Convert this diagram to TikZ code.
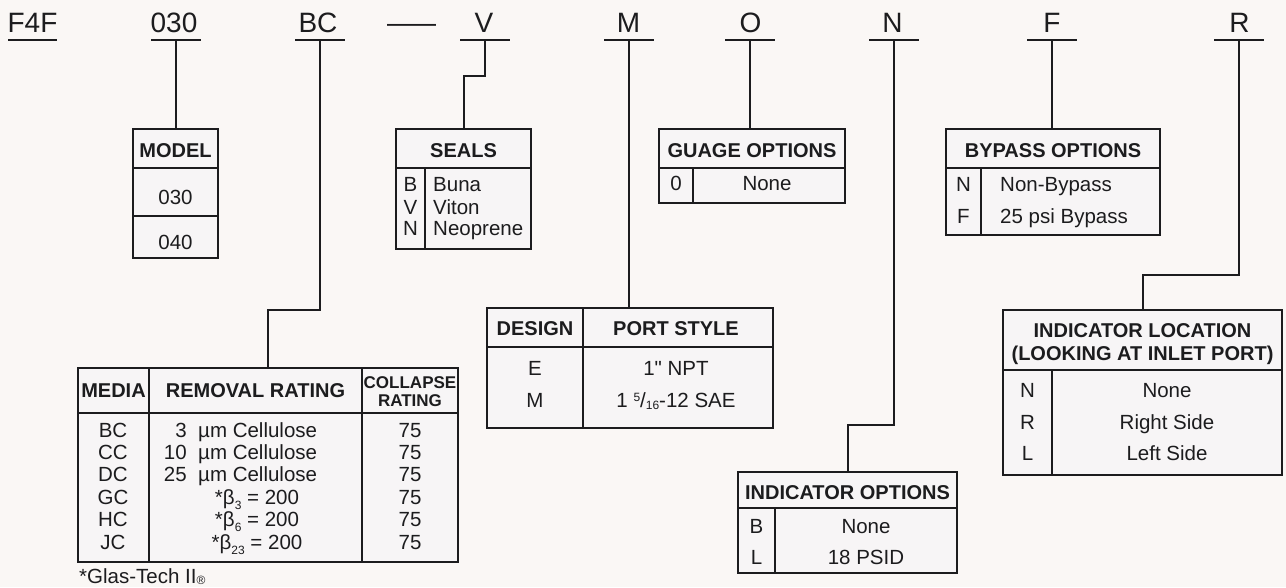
\documentclass[tikz,border=0pt]{standalone}
\usepackage{fontspec}
\setmainfont{Liberation Sans}
\newfontfamily\rawsans{Liberation Sans}
\definecolor{bg}{RGB}{250,247,245}
\definecolor{tfill}{RGB}{247,245,246}
\definecolor{ink}{RGB}{28,28,30}
\newcommand\smallfig[1]{{\fontsize{12}{12}\selectfont #1}}
\newcommand\lowsub[1]{\raisebox{-5pt}{\smallfig{#1}}}
\begin{document}
\begin{tikzpicture}[x=1pt,y=-1pt,
 hdr/.style={font=\fontsize{28}{30}\selectfont, text=ink, anchor=base, inner sep=0pt},
 th/.style={font=\bfseries\fontsize{20}{22}\selectfont, text=ink, anchor=base, inner sep=0pt},
 thsm/.style={font=\bfseries\fontsize{17}{19}\selectfont, text=ink, anchor=base, inner sep=0pt},
 td/.style={font=\fontsize{20.5}{22}\selectfont, text=ink, anchor=base, inner sep=0pt},
 tdl/.style={td, anchor=base west},
 tdr/.style={td, anchor=base east},
 ul/.style={draw=ink, line width=2pt},
 conn/.style={draw=ink, line width=2pt},
 tbl/.style={draw=ink, line width=2.2pt, fill=tfill, anchor=north west, inner sep=0pt, outer sep=0pt},
 rule/.style={draw=ink, line width=2.2pt}]
\fill[bg] (0,0) rectangle (1286,587);
\useasboundingbox (0,0) rectangle (1286,587);

% ---------- header code letters ----------
\node[hdr] (hF4F) at (32.5,32) {F4F};
\node[hdr] (h030) at (174,32) {030};
\node[hdr] (hBC) at (318,32) {BC};
\node[hdr] (hdash) at (411.5,32) {\scalebox{1.75}[1]{—}};
\node[hdr] (hV) at (484,32) {V};
\node[hdr] (hM) at (628.5,32) {M};
\node[hdr] (hO) at (750.5,32) {O};
\node[hdr] (hN) at (892.5,32) {N};
\node[hdr] (hF) at (1052,32) {F};
\node[hdr] (hR) at (1239.5,32) {R};

\coordinate (uF4F) at (32.5,40);
\coordinate (u030) at (176,40);
\coordinate (uBC) at (320,40);
\coordinate (uV) at (485,40);
\coordinate (uM) at (629,40);
\coordinate (uO) at (750,40);
\coordinate (uN) at (894,40);
\coordinate (uF) at (1052,40);
\coordinate (uR) at (1239,40);

\draw[ul] (uF4F) ++(-24.5,0) -- ++(49,0);
\foreach \u in {u030,uBC,uV,uM,uO,uN,uF,uR}
  \draw[ul] (\u) ++(-25,0) -- ++(50,0);

% ---------- MODEL ----------
\node[tbl, minimum width=85pt, minimum height=129pt] (model) at (133,129) {};
\draw[rule] (133,168) -- (218,168);
\draw[rule] (133,216) -- (218,216);
\node[th] (modelH) at (175.5,157) {MODEL};
\node[td] (m030) at (175.5,204) {030};
\node[td] (m040) at (175.5,249) {040};

% ---------- SEALS ----------
\node[tbl, minimum width=135pt, minimum height=120pt] (seals) at (396,129) {};
\draw[rule] (396,168) -- (531,168);
\draw[rule] (425,168) -- (425,249);
\node[th] (sealsH) at (463.5,157) {SEALS};
\node[td] (sB) at (410.5,191.3) {B};
\node[td] (sV) at (410.5,214) {V};
\node[td] (sN) at (410.5,235.6) {N};
\node[tdl] (sBv) at (433,191.3) {Buna};
\node[tdl] (sVv) at (433,214) {Viton};
\node[tdl] (sNv) at (433,235.6) {Neoprene};

% ---------- GUAGE OPTIONS ----------
\node[tbl, minimum width=186pt, minimum height=74pt] (gauge) at (659,129) {};
\draw[rule] (659,168) -- (845,168);
\draw[rule] (693,168) -- (693,203);
\node[th] (gaugeH) at (752,157) {GUAGE OPTIONS};
\node[td] (g0) at (676,190.6) {0};
\node[td] (g0v) at (767,190.6) {None};

% ---------- BYPASS OPTIONS ----------
\node[tbl, minimum width=214pt, minimum height=106pt] (bypass) at (946,129) {};
\draw[rule] (946,168) -- (1160,168);
\draw[rule] (981,168) -- (981,235);
\node[th] (bypassH) at (1053,157) {BYPASS OPTIONS};
\node[td] (bN) at (963.5,191.3) {N};
\node[td] (bF) at (963.5,223.3) {F};
\node[tdl] (bNv) at (1000,191.3) {Non-Bypass};
\node[tdl] (bFv) at (1000,223.3) {25 psi Bypass};

% ---------- MEDIA ----------
\node[tbl, minimum width=380pt, minimum height=194pt] (media) at (78,368) {};
\draw[rule] (78,413) -- (458,413);
\draw[rule] (149,368) -- (149,562);
\draw[rule] (362,368) -- (362,562);
\node[th] (mediaH) at (113.5,397) {MEDIA};
\node[th] (remH) at (255.5,397) {REMOVAL RATING};
\node[thsm] (colH1) at (410,388) {COLLAPSE};
\node[thsm] (colH2) at (410,406) {RATING};
\foreach \c/\y in {BC/437.3,CC/459,DC/481.3,GC/504,HC/526.3,JC/549}
  \node[td] at (113,\y) {\c};
\foreach \y in {437.3,459,481.3,504,526.3,549}
  \node[td] at (410,\y) {75};
\node[tdr] (r1n) at (187,437.3) {3};
\node[tdl] (r1t) at (198,437.3) {µm Cellulose};
\node[tdr] (r2n) at (187,459) {10};
\node[tdl] (r2t) at (198,459) {µm Cellulose};
\node[tdr] (r3n) at (187,481.3) {25};
\node[tdl] (r3t) at (198,481.3) {µm Cellulose};
\node[td] (r4) at (257,504) {*β\lowsub{3} = 200};
\node[td] (r5) at (257,526.3) {*β\lowsub{6} = 200};
\node[td] (r6) at (257,549) {*β\lowsub{23} = 200};
\node[tdl] (foot) at (79,583) {*Glas-Tech II\raisebox{-1pt}{\smallfig{®}}};

% ---------- DESIGN / PORT STYLE ----------
\node[tbl, minimum width=286pt, minimum height=120pt] (design) at (487,308) {};
\draw[rule] (487,347) -- (773,347);
\draw[rule] (583,308) -- (583,428);
\node[th] (desH) at (535,335.5) {DESIGN};
\node[th] (portH) at (676,335.5) {PORT STYLE};
\node[td] (dE) at (535,375.6) {E};
\node[td] (dM) at (535,407.3) {M};
\node[td] (dEv) at (676,375.6) {1{\rawsans"} NPT};
\node[td] (dMv) at (676,407.3) {1 \raisebox{6pt}{\smallfig{5}}/\raisebox{-2pt}{\smallfig{16}}-12 SAE};

% ---------- INDICATOR OPTIONS ----------
\node[tbl, minimum width=219pt, minimum height=101pt] (indopt) at (738,472) {};
\draw[rule] (738,508) -- (957,508);
\draw[rule] (775,508) -- (775,573);
\node[th] (ioH) at (847.5,499) {INDICATOR OPTIONS};
\node[td] (ioB) at (756.5,533.3) {B};
\node[td] (ioL) at (756.5,564) {L};
\node[td] (ioBv) at (866,533.3) {None};
\node[td] (ioLv) at (866,564) {18 PSID};

% ---------- INDICATOR LOCATION ----------
\node[tbl, minimum width=279pt, minimum height=165pt] (indloc) at (1003,310) {};
\draw[rule] (1003,370) -- (1282,370);
\draw[rule] (1052,370) -- (1052,475);
\node[th] (ilH1) at (1142.5,337.2) {INDICATOR LOCATION};
\node[th] (ilH2) at (1142.5,360.5) {(LOOKING AT INLET PORT)};
\node[td] (ilN) at (1027.5,397.3) {N};
\node[td] (ilR) at (1027.5,429) {R};
\node[td] (ilL) at (1027.5,460.6) {L};
\node[td] (ilNv) at (1167,397.3) {None};
\node[td] (ilRv) at (1167,429) {Right Side};
\node[td] (ilLv) at (1167,460.6) {Left Side};

% ---------- connectors ----------
\draw[conn] (u030) -- (u030 |- model.north);
\draw[conn] (uBC) -- ++(0,270) -| (media.north);
\draw[conn] (uV) -- ++(0,36) -| (seals.north);
\draw[conn] (uM) -- (uM |- design.north);
\draw[conn] (uO) -- (uO |- gauge.north);
\draw[conn] (uN) -- ++(0,385) -| (indopt.north);
\draw[conn] (uF) -- (uF |- bypass.north);
\draw[conn] (uR) -- ++(0,235) -| (indloc.north);
\end{tikzpicture}
\end{document}
